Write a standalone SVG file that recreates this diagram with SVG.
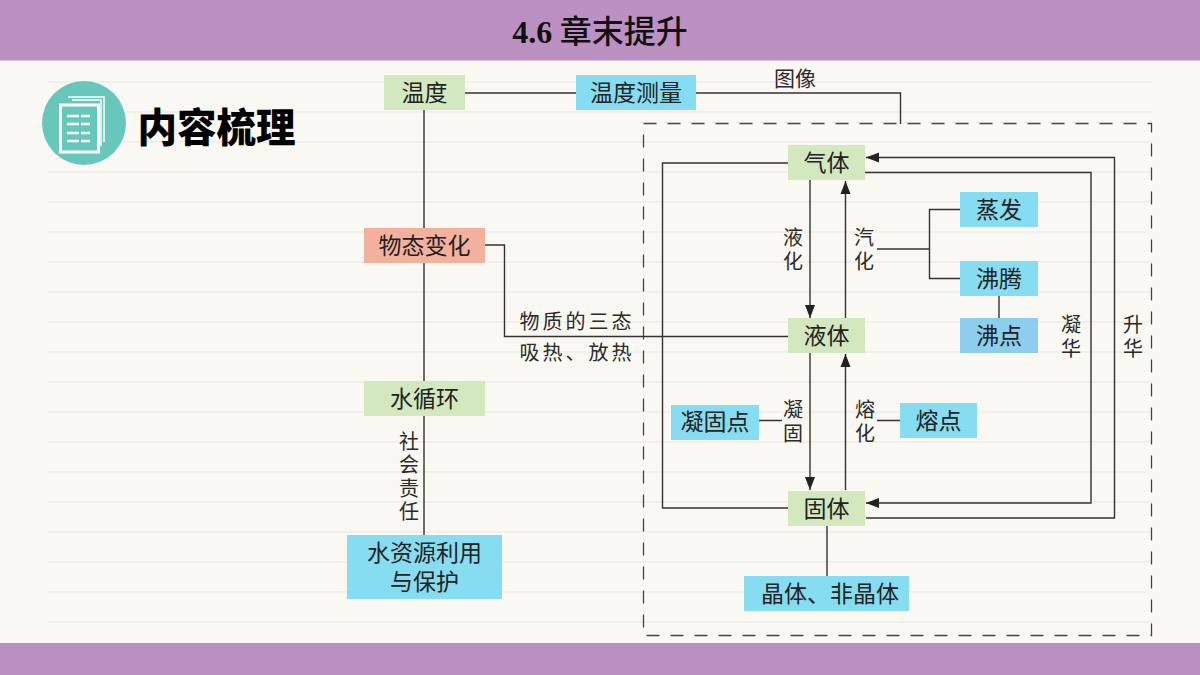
<svg xmlns="http://www.w3.org/2000/svg" width="1200" height="675" viewBox="0 0 1200 675">
<style>
text{font-family:"Noto Sans CJK SC","Noto Sans",sans-serif;fill:#222;text-anchor:middle}
.n{font-size:23px}
.l{font-size:20px;fill:#2a2a2a}
.v{font-size:20px;fill:#2a2a2a;writing-mode:vertical-rl;letter-spacing:3.500px}
.c{fill:none;stroke:#333;stroke-width:1.4}
.g{fill:#d4e8c0}.b{fill:#86dcf0}.p{fill:#8dcdee}.r{fill:#f3b09c}
.rule{stroke:#e9e7e1;stroke-width:1}
</style>
<defs>
<marker id="a" markerUnits="userSpaceOnUse" markerWidth="14" markerHeight="12" refX="13" refY="6" orient="auto"><path d="M0 1L13 6L0 11Z" fill="#222"/></marker>
</defs>
<rect width="1200" height="675" fill="#faf8f3"/>
<g id="rules"><path class="rule" d="M48 82H1152M48 112H1152M48 142H1152M48 172H1152M48 202H1152M48 232H1152M48 262H1152M48 292H1152M48 322H1152M48 352H1152M48 382H1152M48 412H1152M48 442H1152M48 472H1152M48 502H1152M48 532H1152M48 562H1152M48 592H1152M48 622H1152"/></g>
<rect id="top-bar" width="1200" height="60.500" fill="#bc90c2"/>
<rect id="bottom-bar" y="643" width="1200" height="32" fill="#bc90c2"/>
<text x="600" y="43" style="font-size:32px;font-weight:700;fill:#111"><tspan font-family="Liberation Serif">4.6</tspan> <tspan style="font-weight:500">章末提升</tspan></text>
<g id="icon">
<circle cx="84" cy="123" r="42" fill="#68c7bb"/>
<path d="M68 97H104V142M72 100H101V146" fill="none" stroke="#fff" stroke-width="1.500"/>
<rect x="60.500" y="105" width="38" height="47" fill="#68c7bb" stroke="#fff" stroke-width="3"/>
<path d="M67 116H90M67 124H90M67 133H90M67 141H90" stroke="#fff" stroke-width="2.500" stroke-dasharray="12 2 9 2"/>
</g>
<text x="216.500" y="142" style="font-size:39.500px;font-weight:900;fill:#000">内容梳理</text>
<rect id="frame" x="643.500" y="123.500" width="508" height="512" fill="none" stroke="#444" stroke-width="1.300" stroke-dasharray="13 11"/>
<g id="connectors">
<path class="c" d="M424 110V228M424 263V381M424 416V535"/>
<path class="c" d="M465 93H576M696 93H900.500V124"/>
<path class="c" d="M485 245H504.500V336.500H788"/>
<path class="c" d="M788 163H662.500V508H788"/>
<path class="c" d="M810 180V318" marker-end="url(#a)"/>
<path class="c" d="M845.500 318V181" marker-end="url(#a)"/>
<path class="c" d="M810 353V490" marker-end="url(#a)"/>
<path class="c" d="M845.500 490V354" marker-end="url(#a)"/>
<path class="c" d="M865 172.500H1091V503H866" marker-end="url(#a)"/>
<path class="c" d="M866 518H1114.500V157.500H866" marker-end="url(#a)"/>
<path class="c" d="M877 249H929.500M960 209.500H929.500V278.500H960"/>
<path class="c" d="M999 296V318"/>
<path class="c" d="M759 420.500H782M877 420.500H900"/>
<path class="c" d="M827 526V576"/>
</g>
<g id="n-wendu"><rect class="g" x="384" y="75" width="81" height="35"/><text class="n" x="424.500" y="101">温度</text></g>
<g id="n-celiang"><rect class="b" x="576" y="75" width="120" height="35"/><text class="n" x="636" y="101">温度测量</text></g>
<g id="n-wutai"><rect class="r" x="364" y="228" width="121" height="35"/><text class="n" x="424.500" y="254">物态变化</text></g>
<g id="n-xunhuan"><rect class="g" x="364" y="381" width="121" height="35"/><text class="n" x="424.500" y="407">水循环</text></g>
<g id="n-shuiziyuan"><rect class="b" x="347" y="535" width="155" height="64"/><text class="n" x="424.500" y="561">水资源利用<tspan x="424.500" dy="29">与保护</tspan></text></g>
<g id="n-qi"><rect class="g" x="788" y="145" width="77" height="35"/><text class="n" x="826.500" y="171">气体</text></g>
<g id="n-ye"><rect class="g" x="788" y="318" width="77" height="35"/><text class="n" x="826.500" y="344">液体</text></g>
<g id="n-gu"><rect class="g" x="788" y="491" width="77" height="35"/><text class="n" x="826.500" y="517">固体</text></g>
<g id="n-zhengfa"><rect class="b" x="960" y="192" width="78" height="35"/><text class="n" x="999" y="218">蒸发</text></g>
<g id="n-feiteng"><rect class="b" x="960" y="261" width="78" height="35"/><text class="n" x="999" y="287">沸腾</text></g>
<g id="n-feidian"><rect class="p" x="960" y="318" width="78" height="35"/><text class="n" x="999" y="344">沸点</text></g>
<g id="n-ninggudian"><rect class="b" x="671" y="405" width="88" height="35"/><text class="n" x="715" y="430">凝固点</text></g>
<g id="n-rongdian"><rect class="b" x="900" y="403" width="77" height="35"/><text class="n" x="938.500" y="429">熔点</text></g>
<g id="n-jingti"><rect class="b" x="744" y="576" width="165" height="35"/><text class="n" x="830" y="602">晶体、非晶体</text></g>
<g id="labels">
<text class="l" x="795" y="86" style="font-size:21px">图像</text>
<text class="l" x="577" y="329" style="letter-spacing:3px">物质的三态</text>
<text class="l" x="577" y="360" style="letter-spacing:3px">吸热、放热</text>
<text class="v" x="793" y="251">液化</text>
<text class="v" x="864" y="251">汽化</text>
<text class="v" x="793" y="423">凝固</text>
<text class="v" x="865" y="423">熔化</text>
<text class="v" x="1071" y="338">凝华</text>
<text class="v" x="1133" y="338">升华</text>
<text class="v" x="409" y="478">社会责任</text>
</g>
</svg>
